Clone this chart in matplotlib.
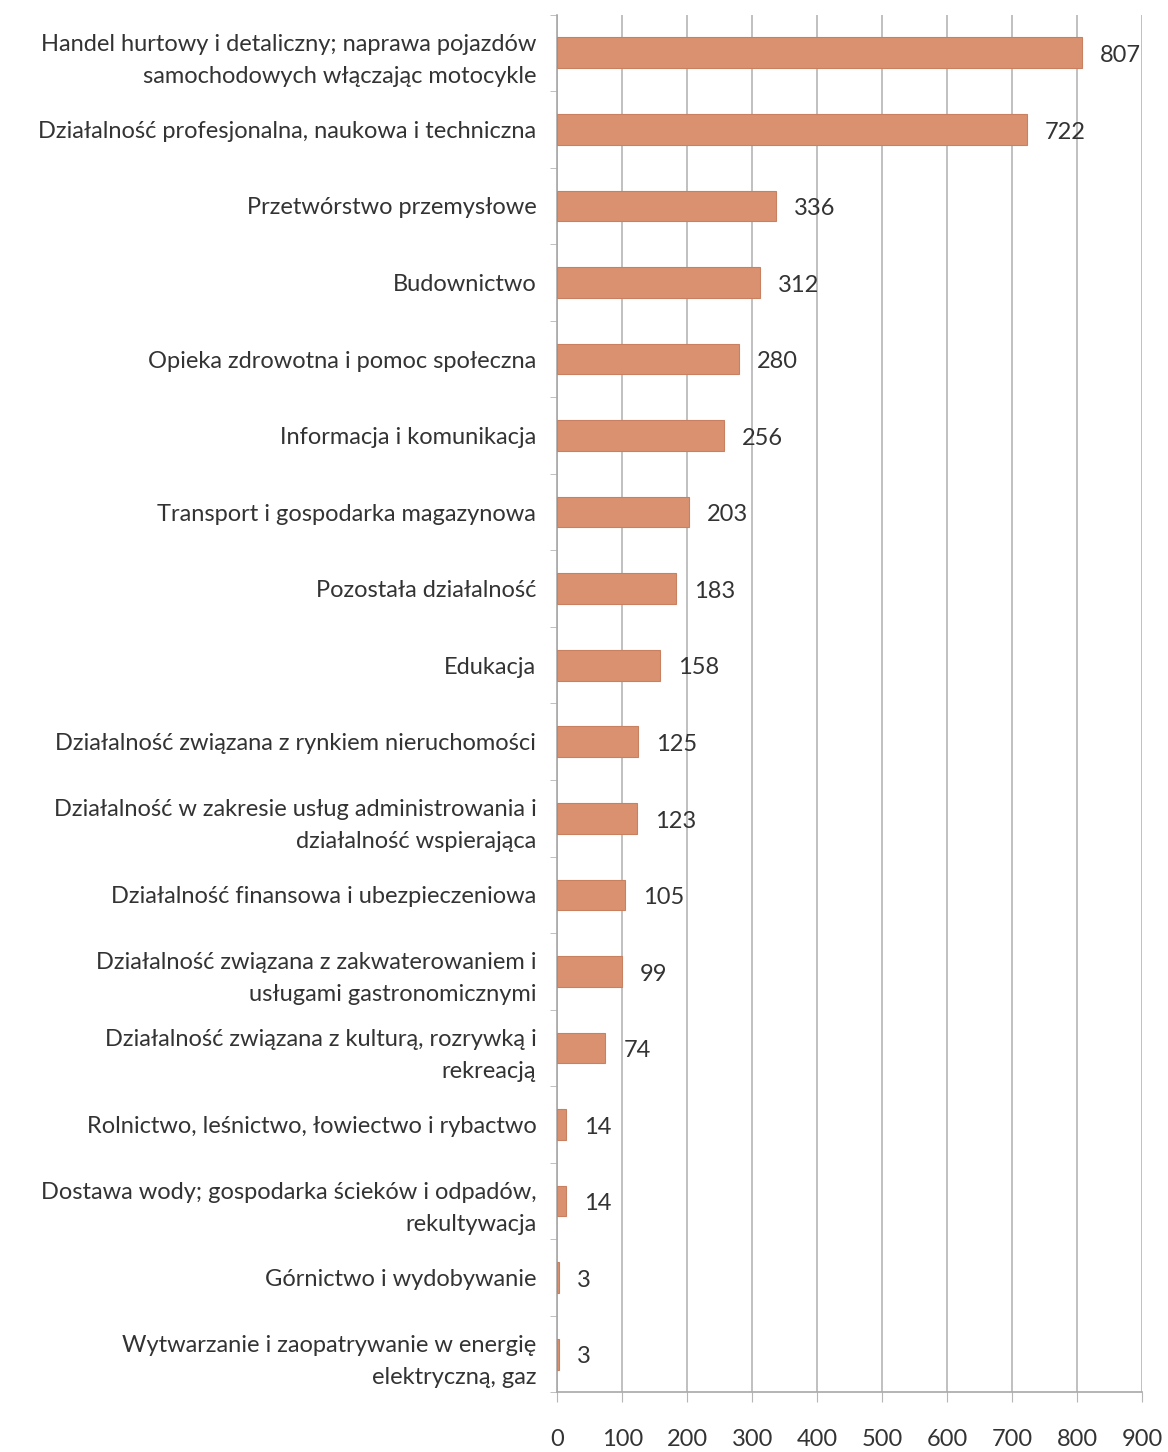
import numpy as np
from matplotlib import pyplot as plt

categories = [
    "Handel hurtowy i detaliczny; naprawa pojazdów\nsamochodowych włączając motocykle",
    "Działalność profesjonalna, naukowa i techniczna",
    "Przetwórstwo przemysłowe",
    "Budownictwo",
    "Opieka zdrowotna i pomoc społeczna",
    "Informacja i komunikacja",
    "Transport i gospodarka magazynowa",
    "Pozostała działalność",
    "Edukacja",
    "Działalność związana z rynkiem nieruchomości",
    "Działalność w zakresie usług administrowania i\ndziałalność wspierająca",
    "Działalność finansowa i ubezpieczeniowa",
    "Działalność związana z zakwaterowaniem i\nusługami gastronomicznymi",
    "Działalność związana z kulturą, rozrywką i\nrekreacją",
    "Rolnictwo, leśnictwo, łowiectwo i rybactwo",
    "Dostawa wody; gospodarka ścieków i odpadów,\nrekultywacja",
    "Górnictwo i wydobywanie",
    "Wytwarzanie i zaopatrywanie w energię\nelektryczną, gaz",
]
values = [807, 722, 336, 312, 280, 256, 203, 183, 158, 125, 123, 105, 99, 74, 14, 14, 3, 3]
xticks = [0, 100, 200, 300, 400, 500, 600, 700, 800, 900]

plt.rcParams['font.family'] = ['Lato', 'DejaVu Sans']

fig = plt.figure(figsize=(11.68, 14.52), dpi=100)
ax = fig.add_axes([0.477, 0.041, 0.501, 0.949])

y = np.arange(len(categories))
ax.barh(y, values, height=0.4, color='#d9916f', edgecolor='#c98060', linewidth=0.8, zorder=3)

for yi, v in zip(y, values):
    ax.annotate(str(v), (v, yi), xytext=(13, -2), textcoords='offset points',
                va='center', ha='left', fontsize=17, color='#333333', zorder=4)

ax.set_xlim(0, 900)
ax.set_ylim(len(categories) - 0.5, -0.5)
ax.set_xticks(xticks)
ax.set_xticklabels([str(t) for t in xticks], fontsize=17, color='#333333')
ax.set_yticks(y)
ax.set_yticklabels(categories, fontsize=17, color='#333333', linespacing=1.65)
ax.set_yticks(np.arange(len(categories) + 1) - 0.5, minor=True)

ax.grid(axis='x', color='#b5b5b5', linewidth=1.2, zorder=0)
ax.tick_params(axis='y', which='major', length=0, pad=15)
ax.tick_params(axis='y', which='minor', length=5, color='#b5b5b5')
ax.tick_params(axis='x', length=7, color='#b5b5b5', pad=19)

for s in ['top', 'right']:
    ax.spines[s].set_visible(False)
for s in ['left', 'bottom']:
    ax.spines[s].set_color('#a8a8a8')
    ax.spines[s].set_linewidth(1.2)

fig.savefig('out.png', dpi=100)
